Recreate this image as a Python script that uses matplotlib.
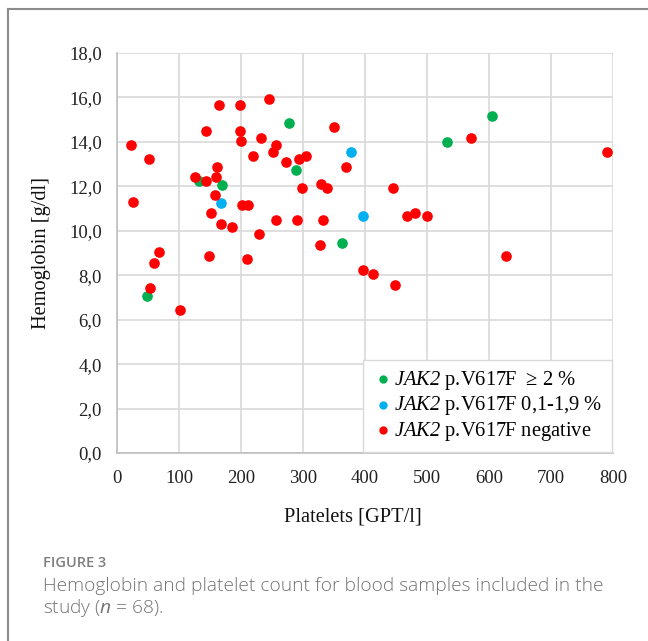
import matplotlib.pyplot as plt
from matplotlib.lines import Line2D

# data
green_x = [49, 132, 169, 278, 289, 363, 533, 605]
green_y = [7.07, 12.23, 12.07, 14.84, 12.75, 9.43, 14.0, 15.16]

blue_x = [167, 377, 397]
blue_y = [11.27, 13.56, 10.66]

red_x = [23, 51, 26, 67, 60, 53, 102,
         164, 199, 245, 350, 143, 199, 200, 233, 257, 252, 219, 272, 293,
         305, 370, 162, 126, 144, 160, 299, 329, 338, 158, 202, 212, 151,
         168, 185, 257, 291, 332, 229, 328, 149, 210,
         445, 467, 480, 500, 396, 413, 448, 571, 791, 627]
red_y = [13.86, 13.21, 11.28, 9.04, 8.56, 7.42, 6.44,
         15.65, 15.65, 15.95, 14.67, 14.51, 14.51, 14.03, 14.18, 13.88, 13.54,
         13.38, 13.08, 13.23, 13.38, 12.88, 12.88, 12.42, 12.25, 12.42, 11.92,
         12.1, 11.92, 11.62, 11.14, 11.14, 10.81, 10.32, 10.15, 10.48, 10.48,
         10.48, 9.85, 9.35, 8.87, 8.72,
         11.92, 10.65, 10.81, 10.65, 8.24, 8.06, 7.56, 14.18, 13.53, 8.87]

x_ticks = [0, 100, 200, 300, 400, 500, 600, 700, 800]
y_ticks = [0, 2, 4, 6, 8, 10, 12, 14, 16, 18]
y_tick_labels = ['0,0', '2,0', '4,0', '6,0', '8,0', '10,0', '12,0', '14,0', '16,0', '18,0']

plt.rcParams['font.family'] = ['Liberation Serif', 'DejaVu Serif']
plt.rcParams['mathtext.fontset'] = 'custom'
plt.rcParams['mathtext.rm'] = 'Liberation Serif'
plt.rcParams['mathtext.sf'] = 'Liberation Serif:italic'
plt.rcParams['mathtext.cal'] = 'Open Sans:italic'

fig = plt.figure(figsize=(6.48, 6.41), dpi=100)
ax = fig.add_axes([117 / 648, 1 - 453 / 641, 496 / 648, 400 / 641])

grid_col = '#d9d9d9'
ax.scatter(green_x, green_y, s=44, color='#00b050', zorder=3,
           label=r'$\mathsf{JAK2}$ p.V617F  ≥ 2 %')
ax.scatter(blue_x, blue_y, s=44, color='#00b0f0', zorder=3,
           label=r'$\mathsf{JAK2}$ p.V617F 0,1-1,9 %')
ax.scatter(red_x, red_y, s=44, color='#ff0000', zorder=3,
           label=r'$\mathsf{JAK2}$ p.V617F negative')

ax.set_xlim(0, 800)
ax.set_ylim(0, 18)
ax.set_xticks(x_ticks)
ax.set_yticks(y_ticks)
ax.set_yticklabels(y_tick_labels)
ax.tick_params(length=0, labelsize=13.5, colors='#222222')
ax.tick_params(axis='y', pad=11)
ax.tick_params(axis='x', pad=12)
ax.grid(True, color=grid_col, linewidth=1.2)
ax.set_axisbelow(True)
for side in ['top', 'right']:
    ax.spines[side].set_visible(False)
for side in ['left', 'bottom']:
    ax.spines[side].set_color('#bfbfbf')
    ax.spines[side].set_linewidth(1.2)

leg = ax.legend(loc='lower right', fontsize=14.8, frameon=True, fancybox=False,
                borderaxespad=0.05, handletextpad=0.0, handlelength=1.1,
                labelspacing=0.12, borderpad=0.45, markerscale=0.75)
leg.get_frame().set_edgecolor(grid_col)
leg.get_frame().set_linewidth(1.0)
leg.get_frame().set_alpha(1)

fig.text(42 / 648, 1 - 253 / 641, 'Hemoglobin [g/dl]', rotation=90,
         ha='center', va='center', fontsize=14.7, color='#111111')
fig.text(353 / 648, 1 - 517 / 641, 'Platelets [GPT/l]',
         ha='center', va='center', fontsize=14.7, color='#111111')

# caption
fig.text(43 / 648, 1 - 563 / 641, 'FIGURE 3', ha='left', va='center',
         fontsize=10.5, color='#7f7f7f', family='Open Sans', weight='semibold')
fig.text(43 / 648, 1 - 586 / 641,
         'Hemoglobin and platelet count for blood samples included in the',
         ha='left', va='center', fontsize=13.8, color='#737373',
         family='Open Sans', weight='light')
fig.text(43 / 648, 1 - 608 / 641, r'study ($\mathcal{n}$ = 68).',
         ha='left', va='center', fontsize=13.8, color='#737373',
         family='Open Sans', weight='light')

# outer frame
fig.add_artist(Line2D([8 / 648, 8 / 648], [0, 1 - 9 / 641], transform=fig.transFigure,
                      color='#8c8c8c', linewidth=1.5))
fig.add_artist(Line2D([8 / 648, 1], [1 - 9 / 641, 1 - 9 / 641], transform=fig.transFigure,
                      color='#8c8c8c', linewidth=1.5))

fig.savefig('out.png', dpi=100)
